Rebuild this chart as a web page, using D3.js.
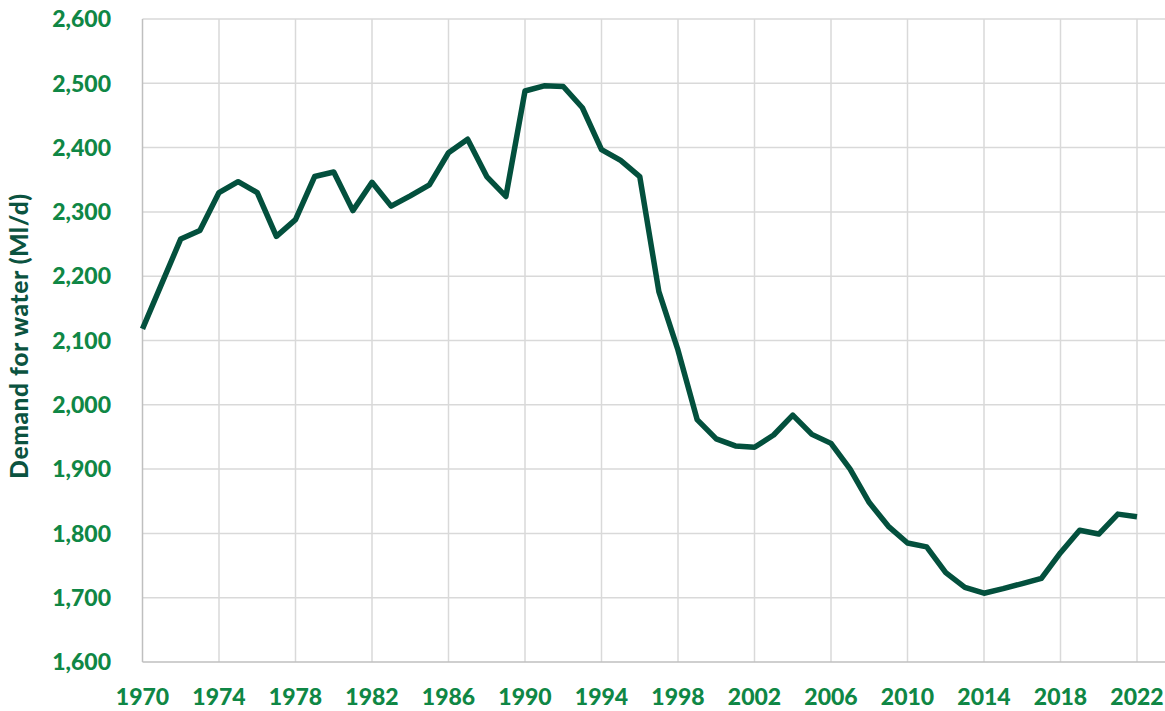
<!DOCTYPE html>
<html><head><meta charset="utf-8">
<script src="https://cdn.jsdelivr.net/npm/d3@7"></script>
<style>body{margin:0;background:#fff}svg{display:block}</style>
</head><body>
<script>
const years = d3.range(1970, 2023);
const demand = [2118,2188,2258,2271,2330,2347,2330,2262,2288,2355,2362,2302,2346,2309,2325,2342,2392,2413,2355,2324,
  2488,2496,2495,2462,2397,2380,2355,2176,2085,1977,1947,1936,1934,1953,1984,1954,1940,1900,1848,1811,
  1785,1779,1739,1716,1707,1714,1722,1730,1770,1805,1799,1830,1826];
const yTicks = [1600,1700,1800,1900,2000,2100,2200,2300,2400,2500,2600];
const xTicks = d3.range(1970, 2023, 4);
const yTitle = "Demand for water (Ml/d)";

const W = 1165, H = 711;
const svg = d3.select("body").append("svg").attr("width", W).attr("height", H);
const x = d3.scaleLinear().domain([1970, 2022]).range([142.5, 1137]);
const y = d3.scaleLinear().domain([1600, 2600]).range([662, 19]);
const xEnd = 1165;

svg.append("g").selectAll("line").data(yTicks.filter(d => d > 1600)).join("line")
  .attr("x1", x(1970)).attr("x2", xEnd).attr("y1", d => y(d)).attr("y2", d => y(d))
  .attr("stroke", "#d9d9d9").attr("stroke-width", 1.5);
svg.append("g").selectAll("line").data(xTicks.filter(d => d > 1970)).join("line")
  .attr("x1", d => x(d)).attr("x2", d => x(d)).attr("y1", y(2600)).attr("y2", y(1600))
  .attr("stroke", "#d9d9d9").attr("stroke-width", 1.5);
svg.append("line").attr("x1", x(1970)).attr("x2", x(1970)).attr("y1", y(2600)).attr("y2", y(1600))
  .attr("stroke", "#bfbfbf").attr("stroke-width", 1.5);
svg.append("line").attr("x1", x(1970)).attr("x2", xEnd).attr("y1", y(1600)).attr("y2", y(1600))
  .attr("stroke", "#bfbfbf").attr("stroke-width", 1.5);

const fmt = d3.format(",");
svg.append("g").selectAll("text").data(yTicks).join("text")
  .attr("x", 111).attr("y", d => y(d)).attr("dy", "0.36em")
  .attr("text-anchor", "end")
  .attr("font-family", "Lato").attr("font-weight", 900).attr("font-size", 23)
  .attr("fill", "#0f8745").text(d => fmt(d));
svg.append("g").selectAll("text").data(xTicks).join("text")
  .attr("x", d => x(d)).attr("y", 697).attr("dy", "0.36em")
  .attr("text-anchor", "middle")
  .attr("font-family", "Lato").attr("font-weight", 900).attr("font-size", 23)
  .attr("fill", "#0f8745").text(d => d);

svg.append("text")
  .attr("transform", `translate(28,${336}) rotate(-90)`)
  .attr("text-anchor", "middle")
  .attr("font-family", "Lato").attr("font-weight", 900).attr("font-size", 24.5)
  .attr("letter-spacing", 0.6)
  .attr("fill", "#0b5340").text(yTitle);

const line = d3.line().x((d, i) => x(years[i])).y(d => y(d));
svg.append("path").datum(demand).attr("d", line)
  .attr("fill", "none").attr("stroke", "#03503d").attr("stroke-width", 5.5)
  .attr("stroke-linejoin", "round").attr("stroke-linecap", "butt");
</script>
</body></html>
